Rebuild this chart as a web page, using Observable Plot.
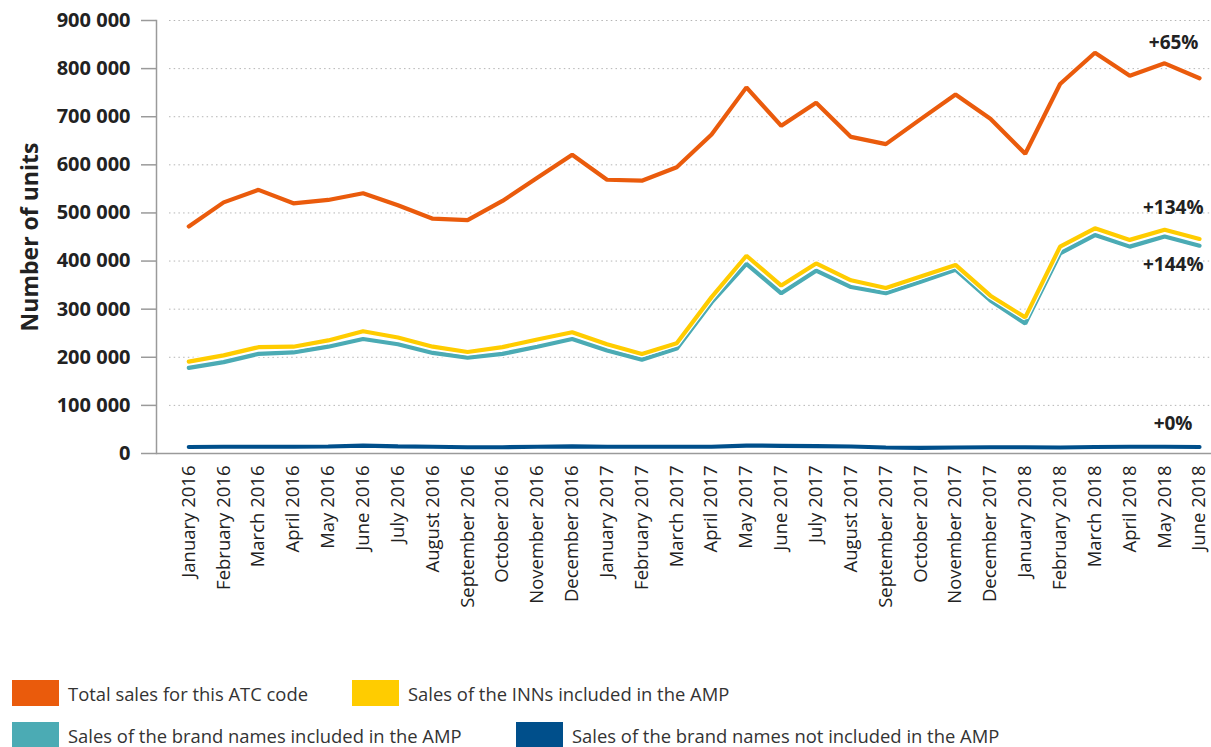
<!DOCTYPE html>
<html>
<head>
<meta charset="utf-8">
<script src="https://cdn.jsdelivr.net/npm/d3@7"></script>
<script src="https://cdn.jsdelivr.net/npm/@observablehq/plot@0.6"></script>
<style>
  body { margin: 0; background: #fff; font-family: "Open Sans", sans-serif; }
  #wrap { position: relative; width: 1211px; height: 747px; }
  #legend { position: absolute; left: 0; top: 0; width: 1211px; }
  .item { position: absolute; display: flex; align-items: center; font-size: 18.4px; color: #333; white-space: nowrap; }
  .sw { width: 47px; height: 26px; margin-right: 9px; }
</style>
</head>
<body>
<div id="wrap">
  <div id="chart"></div>
  <div id="legend"></div>
</div>
<script>
const months = ["January 2016","February 2016","March 2016","April 2016","May 2016","June 2016","July 2016","August 2016","September 2016","October 2016","November 2016","December 2016","January 2017","February 2017","March 2017","April 2017","May 2017","June 2017","July 2017","August 2017","September 2017","October 2017","November 2017","December 2017","January 2018","February 2018","March 2018","April 2018","May 2018","June 2018"];
const totalSales = [472000,522000,548000,520000,527000,541000,516000,488000,485000,525000,573000,621000,569000,567000,595000,663000,761000,681000,729000,658000,643000,695000,746000,696000,623000,768000,833000,785000,811000,780000];
const innSales = [191000,204000,221000,222000,235000,254000,241000,222000,211000,221000,237000,252000,227000,207000,229000,325000,411000,349000,395000,360000,344000,368000,392000,328000,283000,430000,468000,444000,465000,446000];
const brandIncluded = [178000,190000,207000,210000,222000,238000,227000,209000,199000,207000,222000,238000,214000,195000,218000,314000,394000,333000,380000,346000,333000,357000,382000,318000,270000,416000,454000,430000,451000,432000];
const brandNotIncluded = [13500,14000,14000,14000,14500,16500,15000,14000,13000,13000,14000,15000,14000,14000,14000,14000,16500,16000,15500,14500,12500,11500,12500,13000,13000,12500,13500,14000,14000,13500];
const yTicks = [0,100000,200000,300000,400000,500000,600000,700000,800000,900000];
const seriesNames = ["Total sales for this ATC code","Sales of the INNs included in the AMP","Sales of the brand names included in the AMP","Sales of the brand names not included in the AMP"];
const seriesColors = ["#EA5B0C","#FFCC00","#4BABB4","#004F8B"];
const endLabels = ["+65%","+134%","+144%","+0%"];
const seriesValues = [totalSales, innSales, brandIncluded, brandNotIncluded];

const idx = months.map((m, i) => i);
const rows = s => months.map((m, i) => ({i, month: m, value: seriesValues[s][i], series: seriesNames[s]}));
const last = months.length - 1;
const labelRows = seriesValues.map((vals, s) => ({i: last, value: vals[last], label: endLabels[s]}));
const labelDy = [-35, -31, 19, -23];
const labelDx = [-1, 4, 4, -7];

const fmt = d => d3.format(",")(d).replace(/,/g, " ");
const drawOrder = [0, 3, 2, 1];

const lineMarks = [];
for (const s of drawOrder) {
  lineMarks.push(Plot.line(rows(s), {x: "i", y: "value", stroke: "#fff", strokeWidth: 6.5, strokeLinejoin: "miter"}));
  lineMarks.push(Plot.line(rows(s), {x: "i", y: "value", stroke: seriesColors[s], strokeWidth: 4.2, strokeLinejoin: "miter"}));
}

const chart = Plot.plot({
  width: 1211,
  height: 650,
  marginLeft: 156,
  marginRight: 0,
  marginTop: 20,
  marginBottom: 197,
  style: {fontFamily: "Open Sans, sans-serif", background: "#fff", color: "#222"},
  x: {type: "linear", domain: [0, last], range: [188.3, 1199], label: null},
  y: {domain: [0, 900000], label: null},
  marks: [
    Plot.ruleY(yTicks.filter(d => d > 0), {stroke: "#b5b5b5", strokeDasharray: "1.5,3.2", insetLeft: 13}),
    Plot.ruleY([0], {stroke: "#9a9a9a", strokeWidth: 1.5}),
    Plot.frame({anchor: "left", stroke: "#9a9a9a", strokeWidth: 1.5}),
    Plot.axisY({ticks: yTicks, tickSize: 15, tickPadding: 11, tickFormat: fmt, fontSize: 20, fontWeight: "bold", stroke: "#9a9a9a", strokeWidth: 1.5, fill: "#222", label: null}),
    Plot.axisX({ticks: idx, tickFormat: i => months[i], tickRotate: -90, tickSize: 0, tickPadding: 12, fontSize: 18.5, fill: "#222", label: null}),
    ...lineMarks,
    ...labelRows.map((r, i) => Plot.text([r], {x: "i", y: "value", text: "label", textAnchor: "end", dx: labelDx[i], dy: labelDy[i], fontSize: 19, fontWeight: "bold", fill: "#222"})),
    Plot.text(["Number of units"], {frameAnchor: "left", textAnchor: "middle", dx: -126, rotate: -90, fontSize: 23, fontWeight: "bold", fill: "#222"})
  ]
});
document.getElementById("chart").appendChild(chart);

const legendPos = [[12, 680], [352, 680], [12, 722], [516, 722]];
const legend = document.getElementById("legend");
seriesNames.forEach((name, i) => {
  const div = document.createElement("div");
  div.className = "item";
  div.style.left = legendPos[i][0] + "px";
  div.style.top = legendPos[i][1] + "px";
  div.innerHTML = `<div class="sw" style="background:${seriesColors[i]}"></div><span>${name}</span>`;
  legend.appendChild(div);
});
</script>
</body>
</html>
